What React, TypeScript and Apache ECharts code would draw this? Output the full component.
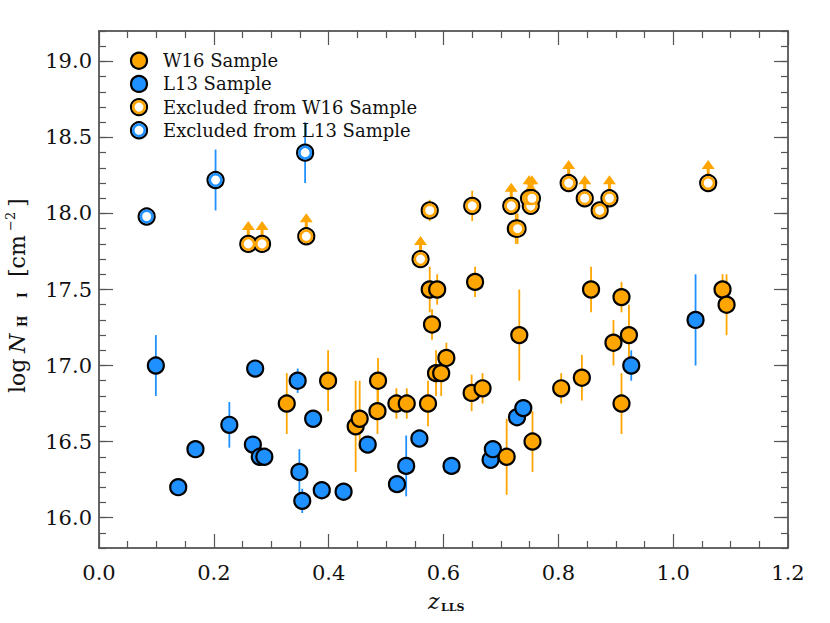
import React, { useEffect, useRef } from 'react';
import * as echarts from 'echarts';

const ORANGE = '#FFA500';
const BLUE = '#1E90FF';
const FONT = 'DejaVu Serif';

// Axis tick values
const Y_MAJOR = [16.0, 16.5, 17.0, 17.5, 18.0, 18.5, 19.0];

// W16 sample (filled orange)
const W16_Z = [0.327, 0.399, 0.447, 0.454, 0.485, 0.486, 0.518, 0.536, 0.573, 0.576, 0.589, 0.58, 0.587, 0.596, 0.605, 0.655, 0.649, 0.668, 0.71, 0.732, 0.755, 0.805, 0.841, 0.857, 0.896, 0.91, 0.91, 0.923, 1.086, 1.093];
const W16_N = [16.75, 16.9, 16.6, 16.65, 16.7, 16.9, 16.75, 16.75, 16.75, 17.5, 17.5, 17.27, 16.95, 16.95, 17.05, 17.55, 16.82, 16.85, 16.4, 17.2, 16.5, 16.85, 16.92, 17.5, 17.15, 16.75, 17.45, 17.2, 17.5, 17.4];
const W16_ERR_LO = [0.2, 0.2, 0.3, 0.2, 0.15, 0.15, 0.1, 0.1, 0.15, 0.15, 0.1, 0.1, 0.15, 0.15, 0.1, 0.1, 0.12, 0.1, 0.25, 0.3, 0.2, 0.1, 0.15, 0.15, 0.15, 0.2, 0.1, 0.2, 0.1, 0.2];
const W16_ERR_HI = [0.2, 0.2, 0.3, 0.25, 0.15, 0.15, 0.1, 0.1, 0.15, 0.15, 0.1, 0.1, 0.15, 0.15, 0.1, 0.1, 0.12, 0.1, 0.25, 0.3, 0.2, 0.1, 0.15, 0.15, 0.15, 0.2, 0.1, 0.2, 0.1, 0.2];

// L13 sample (filled blue)
const L13_Z = [0.099, 0.138, 0.168, 0.227, 0.268, 0.272, 0.28, 0.288, 0.346, 0.349, 0.354, 0.373, 0.388, 0.426, 0.468, 0.519, 0.535, 0.558, 0.614, 0.682, 0.686, 0.728, 0.739, 0.927, 1.039];
const L13_N = [17.0, 16.2, 16.45, 16.61, 16.48, 16.98, 16.4, 16.4, 16.9, 16.3, 16.11, 16.65, 16.18, 16.17, 16.48, 16.22, 16.34, 16.52, 16.34, 16.38, 16.45, 16.66, 16.72, 17.0, 17.3];
const L13_ERR = [0.2, 0, 0, 0.15, 0, 0, 0, 0.05, 0.08, 0.15, 0.08, 0.05, 0, 0, 0, 0, 0.2, 0, 0, 0, 0, 0, 0, 0.1, 0.3];

// Excluded from W16 sample (open orange); LIMIT = 1 means lower limit (arrow)
const EXW16_Z = [0.26, 0.284, 0.361, 0.56, 0.576, 0.65, 0.718, 0.726, 0.729, 0.752, 0.749, 0.754, 0.818, 0.846, 0.872, 0.889, 1.061];
const EXW16_N = [17.8, 17.8, 17.85, 17.7, 18.02, 18.05, 18.05, 17.9, 17.9, 18.05, 18.1, 18.1, 18.2, 18.1, 18.02, 18.1, 18.2];
const EXW16_ERR = [0, 0, 0, 0, 0.07, 0.1, 0, 0.1, 0.1, 0, 0, 0, 0, 0, 0, 0, 0];
const EXW16_LIMIT = [1, 1, 1, 1, 0, 0, 1, 0, 0, 1, 1, 1, 1, 1, 0, 1, 1];

// Excluded from L13 sample (open blue)
const EXL13_Z = [0.083, 0.203, 0.359];
const EXL13_N = [17.98, 18.22, 18.4];
const EXL13_ERR = [0, 0.2, 0.2];

const LEGEND_ITEMS = [
  { label: 'W16 Sample', color: ORANGE, open: false },
  { label: 'L13 Sample', color: BLUE, open: false },
  { label: 'Excluded from W16 Sample', color: ORANGE, open: true },
  { label: 'Excluded from L13 Sample', color: BLUE, open: true },
];

function errRows(zs: number[], ns: number[], lo: number[], hi: number[]) {
  const rows: number[][] = [];
  zs.forEach((z, i) => {
    if (lo[i] > 0 || hi[i] > 0) rows.push([z, ns[i], lo[i], hi[i]]);
  });
  return rows;
}

function errSeries(rows: number[][], color: string) {
  return {
    type: 'custom',
    z: 1,
    silent: true,
    encode: { x: 0, y: 1 },
    data: rows,
    renderItem: (params: any, api: any) => {
      const x = api.value(0);
      const y = api.value(1);
      const lo = api.value(2);
      const hi = api.value(3);
      const p1 = api.coord([x, y + hi]);
      const p2 = api.coord([x, y - lo]);
      return {
        type: 'line',
        shape: { x1: p1[0], y1: p1[1], x2: p2[0], y2: p2[1] },
        style: { stroke: color, lineWidth: 1.8 },
      };
    },
  };
}

export default function App() {
  const ref = useRef<HTMLDivElement>(null);
  useEffect(() => {
    if (!ref.current) return;
    const chart = echarts.init(ref.current, null, { renderer: 'svg' });

    const pts = (zs: number[], ns: number[]) => zs.map((z, i) => [z, ns[i]]);
    const arrowRows = EXW16_Z.map((z, i) => [z, EXW16_N[i]]).filter((_, i) => EXW16_LIMIT[i] === 1);

    const axisLineStyle = { color: '#333', width: 1.5 };
    const tickStyle = { color: '#555', width: 1.2 };

    const legendGraphics: any[] = [];
    LEGEND_ITEMS.forEach((it, i) => {
      const cy = 60.7 + i * 23.2;
      legendGraphics.push({
        type: 'circle',
        shape: { cx: 139, cy, r: 8 },
        style: { fill: it.open ? '#fff' : it.color, stroke: '#000', lineWidth: 2.2 },
        z: 10,
      });
      if (it.open) {
        legendGraphics.push({
          type: 'circle',
          shape: { cx: 139, cy, r: 5.75 },
          style: { fill: '#fff', stroke: it.color, lineWidth: 2.5 },
          z: 11,
        });
      }
      legendGraphics.push({
        type: 'text',
        x: 163,
        y: cy,
        style: { text: it.label, font: `18px "${FONT}"`, fill: '#111', textAlign: 'left', textVerticalAlign: 'middle' },
        z: 10,
      });
    });

    const t = (text: string, x: number, y: number, size: number, extra: any = {}) => ({
      type: 'text',
      x,
      y,
      style: {
        text,
        fill: '#111',
        font: `${extra.italic ? 'italic ' : ''}${extra.bold ? 'bold ' : ''}${size}px "${FONT}"`,
        textAlign: 'left',
        textVerticalAlign: 'middle',
      },
    });

    const yTitle = {
      type: 'group',
      x: 17.4,
      y: 393,
      rotation: Math.PI / 2,
      children: [
        t('log', 0, 0, 22),
        t('N', 40, 0, 22, { italic: true }),
        t('H', 66, 6, 12, { bold: true }),
        t('I', 95, 6, 12, { bold: true }),
        t('[cm', 116, 0, 22),
        t('\u22122', 162, -7, 13),
        t(']', 186, 0, 22),
      ],
    };

    const xTitle = {
      type: 'group',
      children: [t('z', 428, 601, 22, { italic: true }), t('LLS', 441, 607.7, 11, { bold: true })],
    };

    const option: any = {
      animation: false,
      backgroundColor: '#fff',
      textStyle: { fontFamily: FONT },
      grid: { left: 99, right: 42, top: 31, bottom: 75, containLabel: false },
      xAxis: [
        {
          type: 'value',
          position: 'bottom',
          min: 0,
          max: 1.2,
          interval: 0.2,
          axisLine: { show: true, lineStyle: axisLineStyle },
          axisTick: { show: true, inside: true, length: 14, lineStyle: tickStyle },
          minorTick: { show: true, splitNumber: 4, length: 7, lineStyle: tickStyle },
          axisLabel: {
            show: true,
            margin: 14,
            fontFamily: FONT,
            fontSize: 21,
            color: '#111',
            formatter: (v: number) => v.toFixed(1),
          },
          splitLine: { show: false },
          minorSplitLine: { show: false },
        },
        {
          type: 'value',
          position: 'top',
          min: 0,
          max: 1.2,
          interval: 0.2,
          axisLine: { show: true, lineStyle: axisLineStyle },
          axisTick: { show: true, inside: true, length: 14, lineStyle: tickStyle },
          minorTick: { show: true, splitNumber: 4, length: 7, lineStyle: tickStyle },
          axisLabel: { show: false },
          splitLine: { show: false },
        },
      ],
      yAxis: [
        {
          type: 'value',
          position: 'left',
          min: 15.8,
          max: 19.2,
          axisLine: { show: true, lineStyle: axisLineStyle },
          axisTick: { show: true, inside: true, length: 14, lineStyle: tickStyle, customValues: Y_MAJOR },
          axisLabel: {
            show: true,
            margin: 7,
            fontFamily: FONT,
            fontSize: 21,
            color: '#111',
            customValues: Y_MAJOR,
            formatter: (v: number) => v.toFixed(1),
          },
          splitLine: { show: false },
        },
        {
          type: 'value',
          position: 'left',
          min: 15.8,
          max: 19.2,
          interval: 0.1,
          axisLine: { show: false },
          axisTick: { show: true, inside: true, length: 7, lineStyle: tickStyle },
          axisLabel: { show: false },
          splitLine: { show: false },
        },
        {
          type: 'value',
          position: 'right',
          min: 15.8,
          max: 19.2,
          axisLine: { show: true, lineStyle: axisLineStyle },
          axisTick: { show: true, inside: true, length: 14, lineStyle: tickStyle, customValues: Y_MAJOR },
          axisLabel: { show: false },
          splitLine: { show: false },
        },
        {
          type: 'value',
          position: 'right',
          min: 15.8,
          max: 19.2,
          interval: 0.1,
          axisLine: { show: false },
          axisTick: { show: true, inside: true, length: 7, lineStyle: tickStyle },
          axisLabel: { show: false },
          splitLine: { show: false },
        },
      ],
      graphic: [...legendGraphics, yTitle, xTitle],
      series: [
        errSeries(errRows(L13_Z, L13_N, L13_ERR, L13_ERR), BLUE),
        errSeries(errRows(W16_Z, W16_N, W16_ERR_LO, W16_ERR_HI), ORANGE),
        errSeries(errRows(EXW16_Z, EXW16_N, EXW16_ERR, EXW16_ERR), ORANGE),
        errSeries(errRows(EXL13_Z, EXL13_N, EXL13_ERR, EXL13_ERR), BLUE),
        {
          type: 'custom',
          z: 1,
          silent: true,
          encode: { x: 0, y: 1 },
          data: arrowRows,
          renderItem: (params: any, api: any) => {
            const c = api.coord([api.value(0), api.value(1)]);
            return {
              type: 'group',
              children: [
                {
                  type: 'line',
                  shape: { x1: c[0], y1: c[1], x2: c[0], y2: c[1] - 15 },
                  style: { stroke: ORANGE, lineWidth: 3 },
                },
                {
                  type: 'polygon',
                  shape: { points: [[c[0] - 6.5, c[1] - 14], [c[0] + 6.5, c[1] - 14], [c[0], c[1] - 23]] },
                  style: { fill: ORANGE },
                },
              ],
            };
          },
        },
        {
          type: 'scatter',
          name: 'L13 Sample',
          z: 3,
          symbol: 'circle',
          symbolSize: 16,
          itemStyle: { color: BLUE, borderColor: '#000', borderWidth: 2.2, opacity: 1 },
          data: pts(L13_Z, L13_N),
        },
        {
          type: 'scatter',
          name: 'W16 Sample',
          z: 3,
          symbol: 'circle',
          symbolSize: 16,
          itemStyle: { color: ORANGE, borderColor: '#000', borderWidth: 2.2, opacity: 1 },
          data: pts(W16_Z, W16_N),
        },
        {
          type: 'scatter',
          name: 'Excluded from W16 Sample',
          z: 3,
          symbol: 'circle',
          symbolSize: 16,
          itemStyle: { color: '#fff', borderColor: '#000', borderWidth: 2.2, opacity: 1 },
          data: pts(EXW16_Z, EXW16_N),
        },
        {
          type: 'scatter',
          name: 'Excluded from W16 Sample ring',
          z: 4,
          symbol: 'circle',
          symbolSize: 11.5,
          itemStyle: { color: '#fff', borderColor: ORANGE, borderWidth: 2.5, opacity: 1 },
          data: pts(EXW16_Z, EXW16_N),
        },
        {
          type: 'scatter',
          name: 'Excluded from L13 Sample',
          z: 3,
          symbol: 'circle',
          symbolSize: 16,
          itemStyle: { color: '#fff', borderColor: '#000', borderWidth: 2.2, opacity: 1 },
          data: pts(EXL13_Z, EXL13_N),
        },
        {
          type: 'scatter',
          name: 'Excluded from L13 Sample ring',
          z: 4,
          symbol: 'circle',
          symbolSize: 11.5,
          itemStyle: { color: '#fff', borderColor: BLUE, borderWidth: 2.5, opacity: 1 },
          data: pts(EXL13_Z, EXL13_N),
        },
      ],
    };

    chart.setOption(option);
    return () => chart.dispose();
  }, []);

  return (
    <div
      ref={ref}
      style={{ position: 'absolute', left: 0, top: 0, width: 830, height: 623, background: '#fff' }}
    />
  );
}
